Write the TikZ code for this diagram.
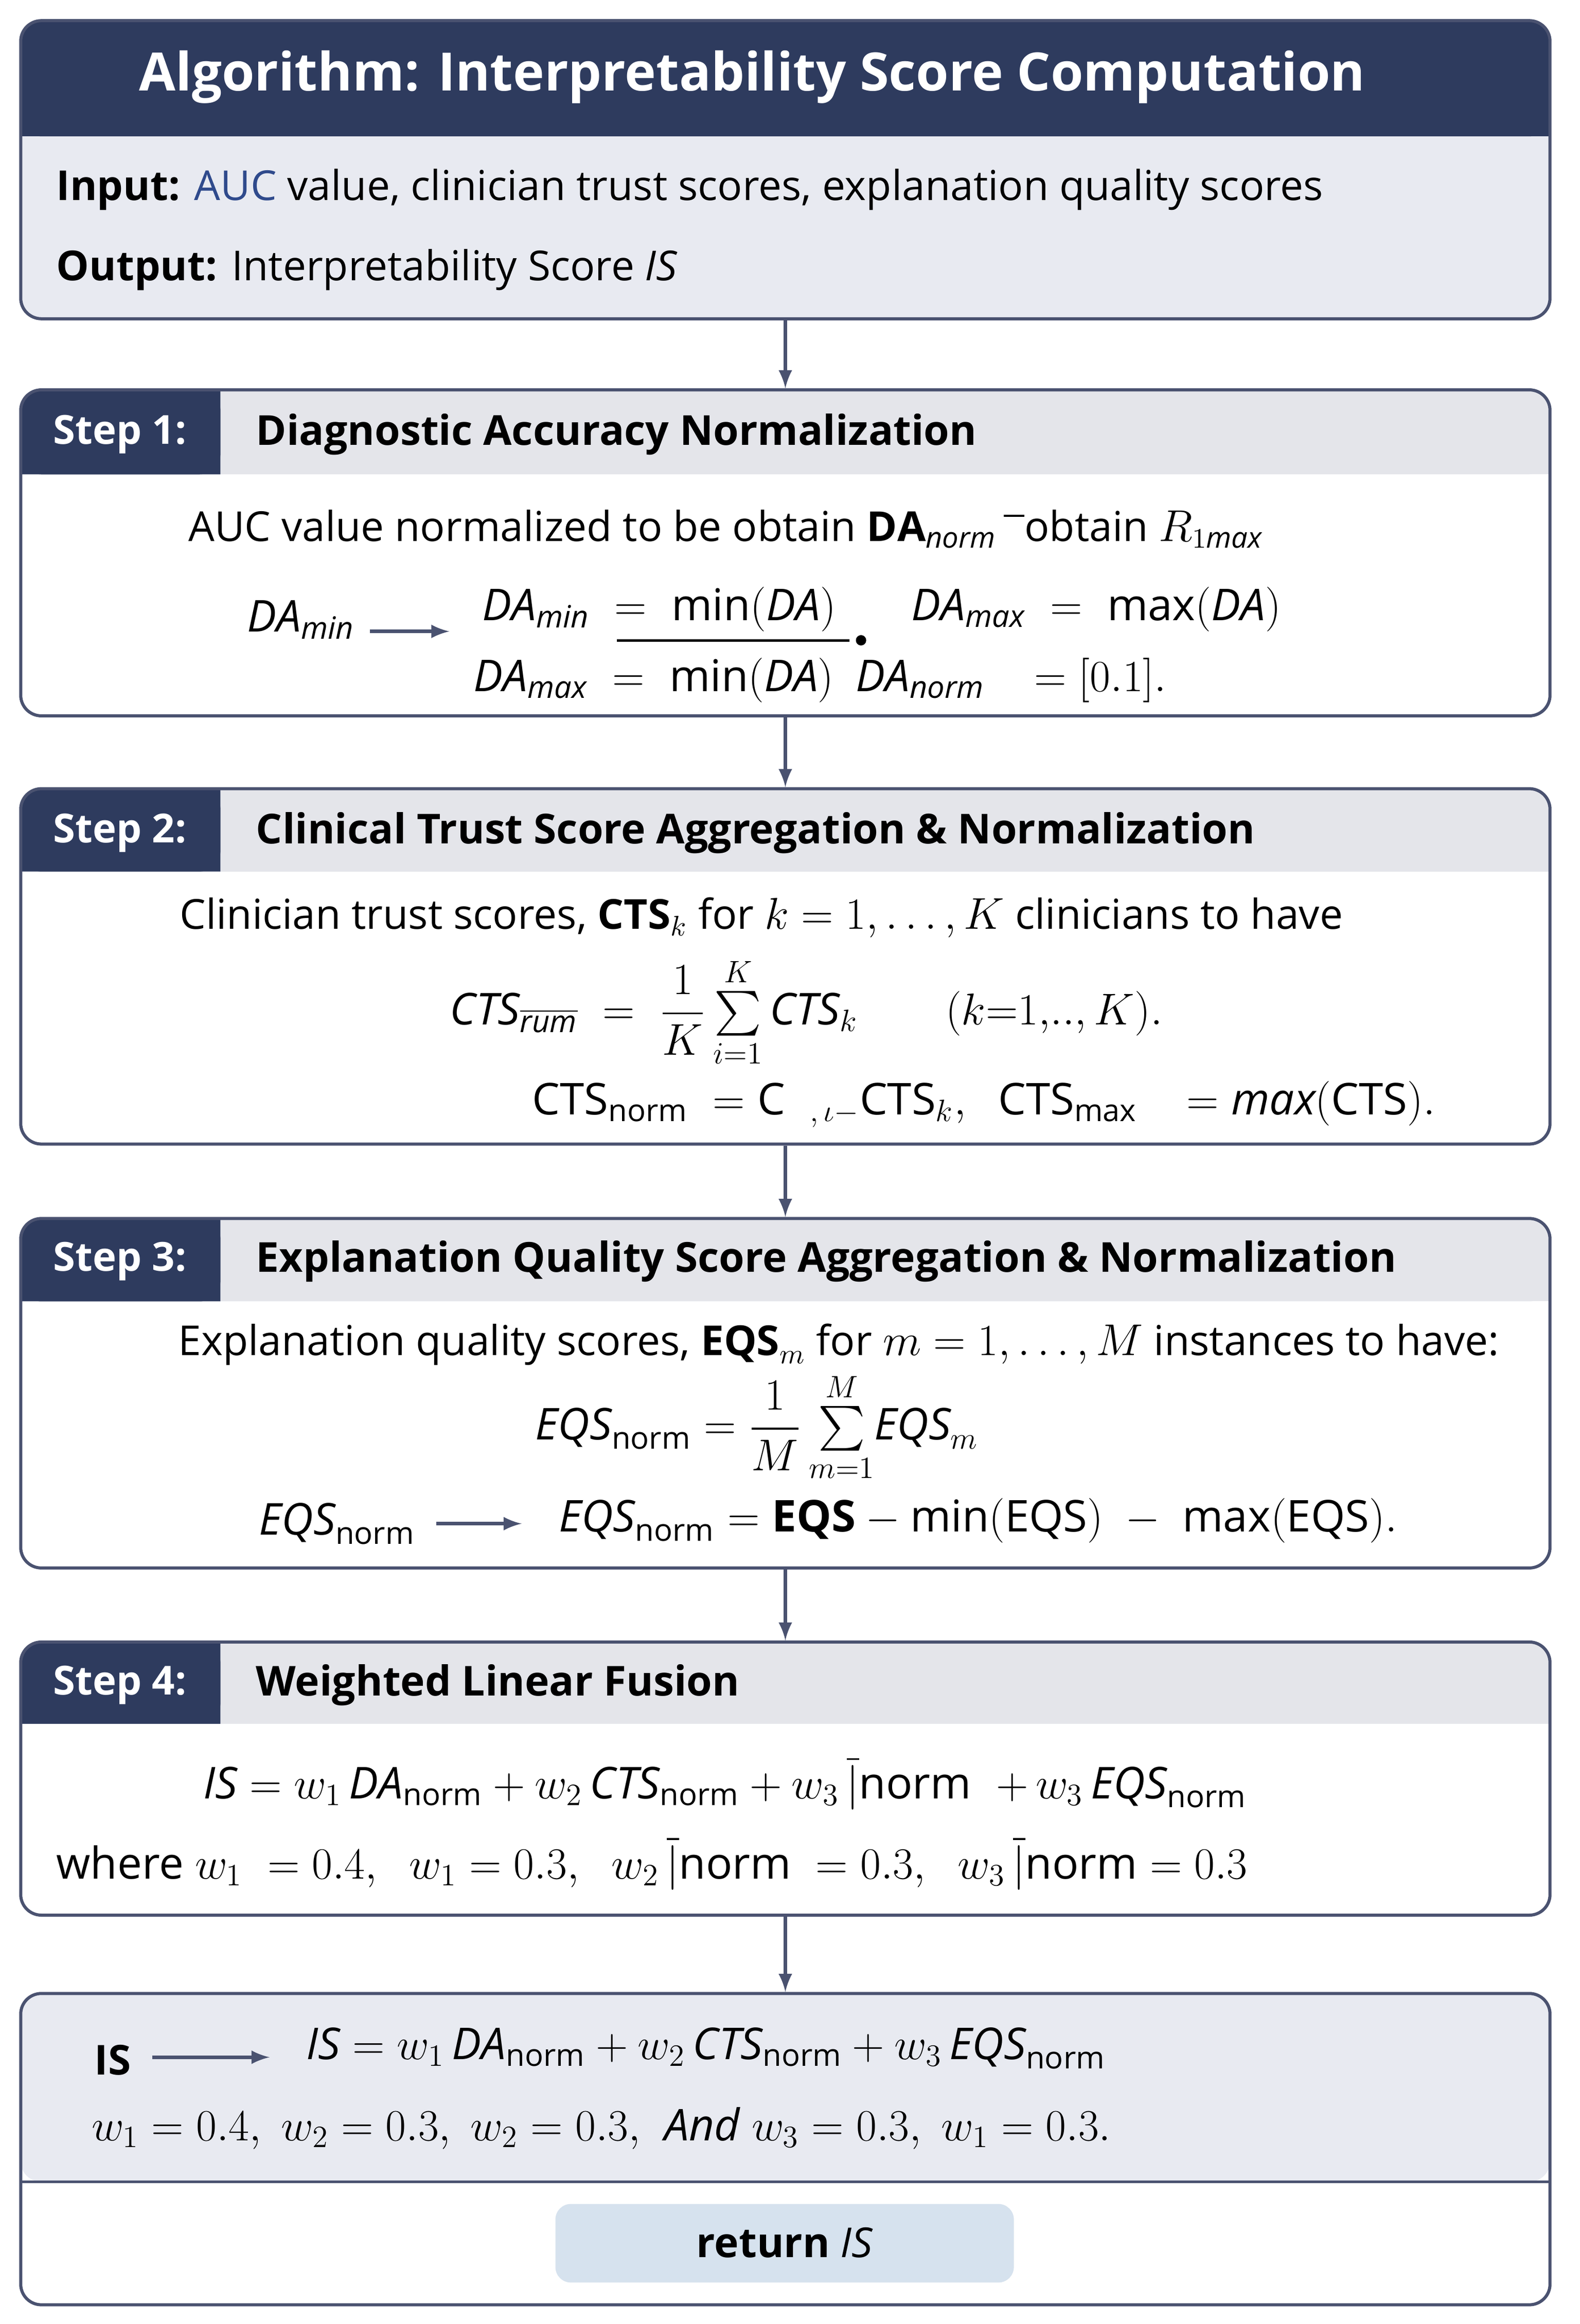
\documentclass[tikz,border=0pt]{standalone}
\usepackage{fontspec}
\setmainfont{Open Sans}
\usepackage{amsmath}
\usetikzlibrary{positioning}
\definecolor{navy}{HTML}{2E3B5E}
\definecolor{bandgray}{HTML}{E4E5EA}
\definecolor{paleblue}{HTML}{E8EAF1}
\definecolor{retblue}{HTML}{D6E2EE}
\definecolor{edge}{HTML}{4A5270}
\definecolor{aucblue}{HTML}{2F4A8C}
\begin{document}
\begin{tikzpicture}[x=0.02cm, y=-0.020191cm,
        every node/.style={font=\fontsize{15}{18}\selectfont, inner sep=0pt},
        formula/.style={font=\fontsize{17}{20}\selectfont, anchor=west},
        box/.style={draw=edge, line width=1.2pt, rounded corners=8pt, minimum width=20.82cm},
        steplbl/.style={text=white, font=\fontsize{15.5}{19}\selectfont\bfseries, anchor=west},
        steptitle/.style={font=\fontsize{16}{20}\selectfont\bfseries, anchor=west},
        flow/.style={-latex, line width=1.4pt, draw=edge}]
    \useasboundingbox (0,0) rectangle (1075,1568);

    % Algorithm header
    \fill[paleblue, rounded corners=8pt] (14,14) rectangle (1055,215);
    \fill[navy, rounded corners=8pt] (14,14) rectangle (1055,92);
    \fill[navy] (14,60) rectangle (1055,92);
    \node[box, minimum height=4.06cm] (alg) at (534.5,114.5) {};
    \node[text=white, font=\fontsize{20.5}{25}\selectfont\bfseries] (algtitle) at (512,52) {Algorithm: Interpretability Score Computation};
    \node[anchor=west, font=\fontsize{16}{19}\selectfont] (inp) at (38,128) {\textbf{Input:} \textcolor{aucblue}{AUC} value, clinician trust scores, explanation quality scores};
    \node[anchor=west, font=\fontsize{16}{19}\selectfont] (outp) at (38,182) {\textbf{Output:} Interpretability Score $\mathit{IS}$};

    % Step 1
    \fill[bandgray, rounded corners=8pt] (14,263) rectangle (1055,320);
    \fill[bandgray] (14,300) rectangle (1055,320);
    \fill[navy, rounded corners=8pt] (14,263) rectangle (150,320);
    \fill[navy] (14,300) rectangle (150,320) (100,263) rectangle (150,320);
    \node[box, minimum height=4.44cm] (s1) at (534.5,373) {};
    \node[steplbl] (s1lbl) at (36,293) {Step 1:};
    \node[steptitle] (s1title) at (174,293) {Diagnostic Accuracy Normalization};
    \node[formula, font=\fontsize{16}{19}\selectfont] (s1a) at (128,357) {AUC value normalized to be obtain $\mathbf{DA}_{\mathit{norm}}$\,$\overline{\phantom{o}}$obtain $R_{1\mathit{max}}$};
    \node[formula] (s1b) at (168,418) {$\mathit{DA}_{\mathit{min}}$};
    \node[formula] (s1c) at (328,411) {$\mathit{DA}_{\mathit{min}} \;=\; \mathrm{min}(\mathit{DA})$};
    \node[formula] (s1d) at (322,459) {$\mathit{DA}_{\mathit{max}} \;=\; \mathrm{min}(\mathit{DA})$\enspace$\mathit{DA}_{\mathit{norm}}\;\;\; = [0.1].$};
    \node[formula] (s1e) at (620,411) {$\mathit{DA}_{\mathit{max}} \;=\; \mathrm{max}(\mathit{DA})$};
    \draw[flow] (s1b.east) ++(10,8) -- ++(54,0);
    \draw[line width=1pt] (420,432) -- (578,432);
    \fill (586,432) circle (2pt);

    % Step 2
    \fill[bandgray, rounded corners=8pt] (14,532) rectangle (1055,588);
    \fill[bandgray] (14,570) rectangle (1055,588);
    \fill[navy, rounded corners=8pt] (14,532) rectangle (150,588);
    \fill[navy] (14,570) rectangle (150,588) (100,532) rectangle (150,588);
    \node[box, minimum height=4.84cm] (s2) at (534.5,652) {};
    \node[steplbl] (s2lbl) at (36,562) {Step 2:};
    \node[steptitle] (s2title) at (174,562) {Clinical Trust Score Aggregation \& Normalization};
    \node[formula, font=\fontsize{16}{19}\selectfont] (s2a) at (122,619) {Clinician trust scores, $\mathbf{CTS}_k$ for $k=1,\dots,K$ clinicians to have};
    \node[formula] (s2b) at (306,683) {$\mathit{CTS}_{\overline{\mathit{rum}}} \;=\; \dfrac{1}{K}\sum\limits_{i=1}^{K} \mathit{CTS}_k \qquad (k{=}1,\!..,K).$};
    \node[formula] (s2c) at (362,745) {$\mathrm{CTS}_{\mathrm{norm}} \;=\mathrm{C}\;\;{}_{,\,\iota-}\mathrm{CTS}_k,\;\; \mathrm{CTS}_{\mathrm{max}}\;\;\; = \mathit{max}(\mathrm{CTS}).$};

    % Step 3
    \fill[bandgray, rounded corners=8pt] (14,822) rectangle (1055,878);
    \fill[bandgray] (14,860) rectangle (1055,878);
    \fill[navy, rounded corners=8pt] (14,822) rectangle (150,878);
    \fill[navy] (14,860) rectangle (150,878) (100,822) rectangle (150,878);
    \node[box, minimum height=4.76cm] (s3) at (534.5,940) {};
    \node[steplbl] (s3lbl) at (36,851) {Step 3:};
    \node[steptitle] (s3title) at (174,851) {Explanation Quality Score Aggregation \& Normalization};
    \node[formula, font=\fontsize{16}{19}\selectfont] (s3a) at (121,907) {Explanation quality scores, $\mathbf{EQS}_m$ for $m=1,\dots,M$ instances to have:};
    \node[formula] (s3b) at (364,963) {$\mathit{EQS}_{\mathrm{norm}} = \dfrac{1}{M}\sum\limits_{m=1}^{M}\!\mathit{EQS}_m$};
    \node[formula] (s3c) at (176,1028) {$\mathit{EQS}_{\mathrm{norm}}$};
    \node[formula] (s3d) at (380,1026) {$\mathit{EQS}_{\mathrm{norm}} = \mathbf{EQS} - \mathrm{min}(\mathrm{EQS})\; - \;\mathrm{max}(\mathrm{EQS}).$};
    \draw[flow] (s3c.east) ++(14,0) -- ++(58,0);

    % Step 4
    \fill[bandgray, rounded corners=8pt] (14,1108) rectangle (1055,1163);
    \fill[bandgray] (14,1145) rectangle (1055,1163);
    \fill[navy, rounded corners=8pt] (14,1108) rectangle (150,1163);
    \fill[navy] (14,1145) rectangle (150,1163) (100,1108) rectangle (150,1163);
    \node[box, minimum height=3.72cm] (s4) at (534.5,1200) {};
    \node[steplbl] (s4lbl) at (36,1137) {Step 4:};
    \node[steptitle] (s4title) at (174,1137) {Weighted Linear Fusion};
    \node[formula] (s4a) at (138,1203) {$\mathit{IS} = w_1\,\mathit{DA}_{\mathrm{norm}} + w_2\,\mathit{CTS}_{\mathrm{norm}} + w_3\,\overline{|}\mathrm{norm}\;\; {+}\,w_3\,\mathit{EQS}_{\mathrm{norm}}$};
    \node[formula] (s4b) at (38,1257) {where $w_1\; = 0.4,\;\; w_1 = 0.3,\;\; w_2\,\overline{|}\mathrm{norm}\; = 0.3,\;\; w_3\,\overline{|}\mathrm{norm} = 0.3$};

    % Final result
    \fill[paleblue, rounded corners=8pt] (14,1345) rectangle (1055,1472);
    \fill[white] (14,1472) rectangle (1055,1540);
    \draw[edge, line width=1pt] (14,1472) -- (1055,1472);
    \node[box, minimum height=4.24cm] (fin) at (534.5,1450) {};
    \node[anchor=west, font=\fontsize{16}{19}\selectfont\bfseries] (fina) at (64,1390) {IS};
    \node[formula] (finb) at (208,1382) {$\mathit{IS} = w_1\,\mathit{DA}_{\mathrm{norm}} + w_2\,\mathit{CTS}_{\mathrm{norm}} + w_3\,\mathit{EQS}_{\mathrm{norm}}$};
    \node[formula] (finc) at (62,1436) {$w_1 = 0.4,\; w_2 = 0.3,\; w_2 = 0.3,\;$ \textit{And} $w_3 = 0.3,\; w_1 = 0.3.$};
    \draw[flow] (fina.east) ++(14,-2) -- ++(80,0);
    \fill[retblue, rounded corners=6pt] (378,1487) rectangle (690,1540);
    \node[font=\fontsize{16}{19}\selectfont] (ret) at (534,1513) {\textbf{return} $\mathit{IS}$};

    % Connectors
    \draw[flow] (alg.south) -- (s1.north);
    \draw[flow] (s1.south) -- (s2.north);
    \draw[flow] (s2.south) -- (s3.north);
    \draw[flow] (s3.south) -- (s4.north);
    \draw[flow] (s4.south) -- (fin.north);
\end{tikzpicture}
\end{document}
